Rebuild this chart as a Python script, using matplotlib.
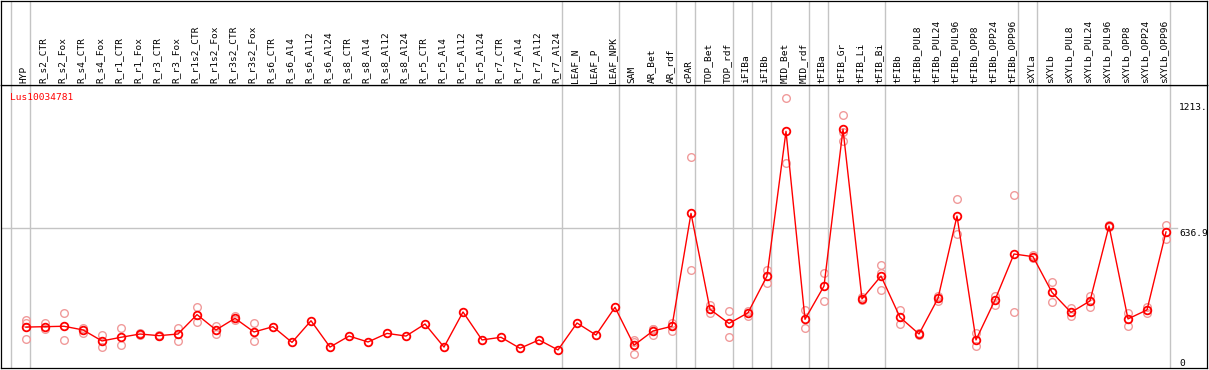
import numpy as np
import matplotlib
matplotlib.use('Agg')
import matplotlib.pyplot as plt
import matplotlib.transforms as mtransforms

nan = np.nan

# sample names, in plotting order
samples = ['HYP', 'R_s2_CTR', 'R_s2_Fox', 'R_s4_CTR', 'R_s4_Fox', 'R_r1_CTR', 'R_r1_Fox',
           'R_r3_CTR', 'R_r3_Fox', 'R_r1s2_CTR', 'R_r1s2_Fox', 'R_r3s2_CTR', 'R_r3s2_Fox',
           'R_s6_CTR', 'R_s6_Al4', 'R_s6_Al12', 'R_s6_Al24', 'R_s8_CTR', 'R_s8_Al4',
           'R_s8_Al12', 'R_s8_Al24', 'R_r5_CTR', 'R_r5_Al4', 'R_r5_Al12', 'R_r5_Al24',
           'R_r7_CTR', 'R_r7_Al4', 'R_r7_Al12', 'R_r7_Al24', 'LEAF_N', 'LEAF_P', 'LEAF_NPK',
           'SAM', 'AR_Bet', 'AR_rdf', 'cPAR', 'TOP_Bet', 'TOP_rdf', 'iFIBa', 'iFIBb',
           'MID_Bet', 'MID_rdf', 'tFIBa', 'tFIB_Gr', 'tFIB_Li', 'tFIB_Bi', 'tFIBb',
           'tFIBb_PUL8', 'tFIBb_PUL24', 'tFIBb_PUL96', 'tFIBb_OPP8', 'tFIBb_OPP24',
           'tFIBb_OPP96', 'sXYLa', 'sXYLb', 'sXYLb_PUL8', 'sXYLb_PUL24', 'sXYLb_PUL96',
           'sXYLb_OPP8', 'sXYLb_OPP24', 'sXYLb_OPP96']

# mean expression per sample
means = [153, 155, 157, 139, 85, 103, 119, 111, 119, 214, 139, 196, 129,
         155, 78, 184, 55, 109, 80, 122, 109, 168, 55, 227, 90, 103, 49, 90, 41,
         173, 114, 250,
         64, 134, 157, 710, 240, 171, 223, 403,
         1112, 191, 354, 1122, 291, 403, 201,
         119, 294, 697, 90, 286, 511, 498, 323,
         225, 281, 648, 193, 237, 619]

# replicate values (nan = no replicate shown)
rep_a = [190, 172, 220, 150, 114, 147, 124, 113, 147, 253, 158, 207, 174,
         nan, nan, nan, nan, nan, nan, nan, nan, nan, nan, nan, nan, nan, nan, nan, nan,
         nan, nan, nan,
         90, 145, 175, 985, 261, 232, 233, 433,
         1274, 237, 418, 1192, 284, 457, 237,
         124, 305, 779, 126, 305, 798, 505, 372,
         245, 307, 652, 223, 253, 653]
rep_b = [95, 145, 88, 126, 57, 65, 114, 109, 86, 179, 118, 186, 86,
         nan, nan, nan, nan, nan, nan, nan, nan, nan, nan, nan, nan, nan, nan, nan, nan,
         nan, nan, nan,
         20, 114, 135, 431, 223, 106, 207, 370,
         956, 148, 281, 1066, 300, 335, 168,
         115, 283, 609, 60, 261, 225, 491, 274,
         209, 253, 644, 160, 220, 583]
rep_c = [172, nan, nan, nan, nan, nan, nan, nan, nan, nan, nan, nan, nan,
         nan, nan, nan, nan, nan, nan, nan, nan, nan, nan, nan, nan, nan, nan, nan, nan,
         nan, nan, nan,
         80, 142, 160, nan, nan, nan, nan, nan,
         nan, nan, nan, 1108, nan, 420, nan,
         nan, nan, nan, nan, nan, nan, nan, nan,
         nan, nan, nan, nan, nan, nan]

# index of the last sample in each group
group_ends = [0, 28, 31, 34, 35, 37, 38, 39, 41, 42, 45, 52, 53, 60]

gene = 'Lus10034781'
right_labels = ['1213.', '636.9', '0']
mid_value = 636.9

RED = '#ff0000'
PINK = '#f09a9a'
GRID = '#c4c4c4'
MONO = 'DejaVu Sans Mono'

W, H = 1209, 370
fig = plt.figure(figsize=(W / 100, H / 100), dpi=100)


def fx(px):
    return px / W


def fy(py):
    return 1 - py / H


ax = fig.add_axes([fx(1), fy(368), fx(1207) - fx(1), fy(85) - fy(368)])
hx = fig.add_axes([fx(1), fy(85), fx(1207) - fx(1), fy(0.5) - fy(85)])

x = np.arange(len(samples))
xlim = ((1 - 26) / 19, (1207 - 26) / 19)
for a in (ax, hx):
    a.set_xlim(*xlim)
    a.set_xticks([])
    a.set_yticks([])
    for s in a.spines.values():
        s.set_color('black')
        s.set_linewidth(0.9)
    a.axvline(-0.78, color=GRID, lw=1, zorder=0)
    for e in group_ends:
        a.axvline(e + 0.226, color=GRID, lw=1, zorder=0)

ax.set_ylim(-47.5, 1339)
hx.set_ylim(0, 1)
ax.axhline(mid_value, xmax=(1177 - 1) / 1206, color=GRID, lw=1, zorder=0)

for rep in (rep_a, rep_b, rep_c):
    ax.plot(x, rep, 'o', mfc='none', mec=PINK, ms=5.5, mew=1.0, zorder=2)
ax.plot(x, means, '-', color=RED, lw=1, zorder=3)
ax.plot(x, means, 'o', mfc='none', mec=RED, ms=5.5, mew=1.3, zorder=4)

trans = mtransforms.blended_transform_factory(hx.transData, hx.transAxes)
for i, name in enumerate(samples):
    hx.text(i - 0.1, 0.025, name, rotation=90, ha='center', va='bottom',
            transform=trans, fontsize=6.8, family=MONO, color='black')

fig.text(fx(10), fy(97), gene, color=RED, fontsize=6.8, family=MONO, va='center', ha='left')
for lab, py in zip(right_labels, [107, 233, 363]):
    fig.text(fx(1179), fy(py), lab, color='black', fontsize=6.8, family=MONO,
             va='center', ha='left')

fig.savefig('out.png', dpi=100)
